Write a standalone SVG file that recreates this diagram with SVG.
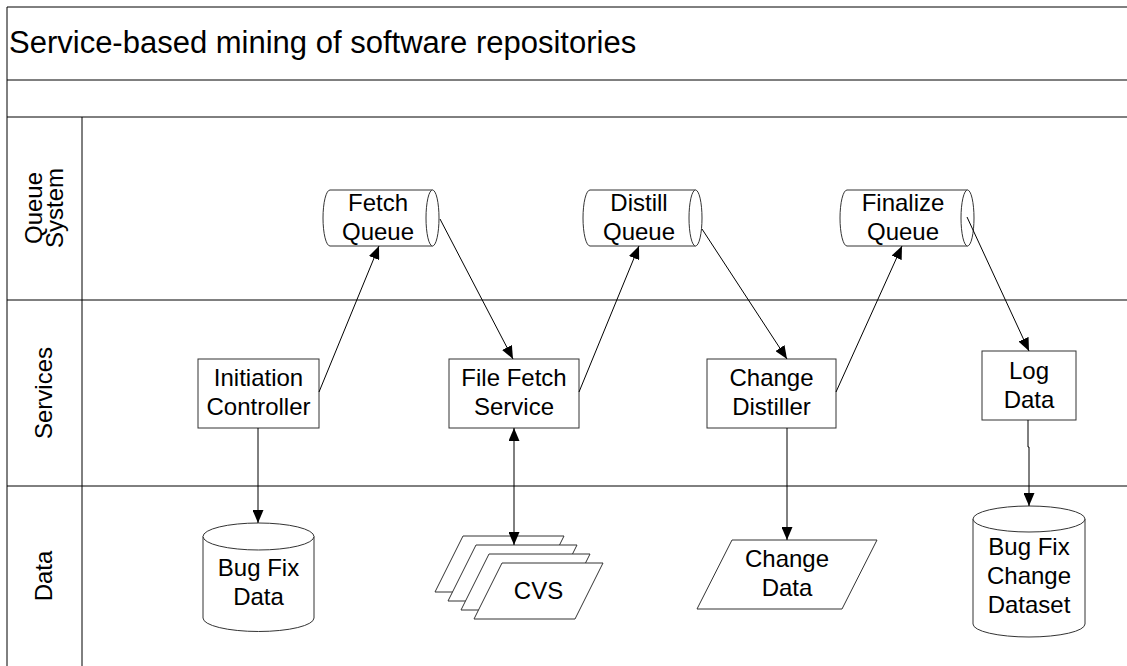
<svg xmlns="http://www.w3.org/2000/svg" width="1127" height="666" viewBox="0 0 1127 666">
<style>
text{font-family:"Liberation Sans",Arial,sans-serif;font-size:24px;fill:#000;text-anchor:middle}
.title{font-size:31px;text-anchor:start}
.frame{stroke:#000;stroke-width:1;fill:none}
.shape{fill:#fff;stroke:#333;stroke-width:1}
.conn{stroke:#000;stroke-width:1;fill:none}
</style>
<defs>
<marker id="ah" viewBox="0 0 13 11" refX="13" refY="5.5" markerWidth="13" markerHeight="11" markerUnits="userSpaceOnUse" orient="auto-start-reverse">
<path d="M0,0 L13,5.5 L0,11 z" fill="#000"/>
</marker>
</defs>
<rect width="1127" height="666" fill="#fff"/>
<g id="frame">
<line class="frame" x1="7" y1="7" x2="1127" y2="7"/>
<line class="frame" x1="7" y1="80" x2="1127" y2="80"/>
<line class="frame" x1="7" y1="117" x2="1127" y2="117"/>
<line class="frame" x1="7" y1="300" x2="1127" y2="300"/>
<line class="frame" x1="7" y1="486" x2="1127" y2="486"/>
<line class="frame" x1="7" y1="7" x2="7" y2="666"/>
<line class="frame" x1="82" y1="117" x2="82" y2="666"/>
<text class="title" x="9" y="53">Service-based mining of software repositories</text>
</g>
<g id="lane-queue"><text transform="translate(44,208) rotate(-90)"><tspan x="0" y="-2">Queue</tspan><tspan x="0" y="19">System</tspan></text></g>
<g id="lane-services"><text transform="translate(52,393) rotate(-90)" x="0" y="0">Services</text></g>
<g id="lane-data"><text transform="translate(52,576) rotate(-90)" x="0" y="0">Data</text></g>

<g id="fetch-queue">
<path class="shape" d="M330,190 L432.5,190 A6.5,28 0 0 1 432.5,246 L330,246 A7,28 0 0 1 330,190 Z"/>
<path class="shape" fill="none" d="M432.5,190 A6.5,28 0 0 0 432.5,246"/>
<text x="378" y="211">Fetch</text><text x="378" y="240">Queue</text>
</g>
<g id="distill-queue">
<path class="shape" d="M590,190 L695.5,190 A6.5,28 0 0 1 695.5,246 L590,246 A7,28 0 0 1 590,190 Z"/>
<path class="shape" fill="none" d="M695.5,190 A6.5,28 0 0 0 695.5,246"/>
<text x="639" y="211">Distill</text><text x="639" y="240">Queue</text>
</g>
<g id="finalize-queue">
<path class="shape" d="M847,190 L967.5,190 A6.5,28 0 0 1 967.5,246 L847,246 A7,28 0 0 1 847,190 Z"/>
<path class="shape" fill="none" d="M967.5,190 A6.5,28 0 0 0 967.5,246"/>
<text x="903" y="211">Finalize</text><text x="903" y="240">Queue</text>
</g>

<g id="initiation-controller">
<rect class="shape" x="198" y="359" width="121" height="69"/>
<text x="258.5" y="386">Initiation</text><text x="258.5" y="415">Controller</text>
</g>
<g id="file-fetch-service">
<rect class="shape" x="449" y="359" width="130" height="69"/>
<text x="514" y="386">File Fetch</text><text x="514" y="415">Service</text>
</g>
<g id="change-distiller">
<rect class="shape" x="707" y="359" width="129" height="69"/>
<text x="771.5" y="386">Change</text><text x="771.5" y="415">Distiller</text>
</g>
<g id="log-data">
<rect class="shape" x="982" y="351" width="94" height="69"/>
<text x="1029" y="379">Log</text><text x="1029" y="408">Data</text>
</g>

<g id="bug-fix-data">
<path class="shape" d="M203,536.5 A55.5,13.5 0 0 1 314,536.5 L314,618 A55.5,13.5 0 0 1 203,618 Z"/>
<path class="shape" fill="none" d="M203,536.5 A55.5,13.5 0 0 0 314,536.5"/>
<text x="258.5" y="576">Bug Fix</text><text x="258.5" y="605">Data</text>
</g>
<g id="cvs">
<path class="shape" d="M463,536 L564,536 L536,592 L435,592 Z"/>
<path class="shape" d="M476,545 L577,545 L549,601 L448,601 Z"/>
<path class="shape" d="M489,554 L590,554 L562,610 L461,610 Z"/>
<path class="shape" d="M502,563 L603,563 L575,619 L474,619 Z"/>
<text x="538.5" y="599">CVS</text>
</g>
<g id="change-data">
<path class="shape" d="M732,540 L877,540 L842,609 L697,609 Z"/>
<text x="787" y="567">Change</text><text x="787" y="596">Data</text>
</g>
<g id="bug-fix-change-dataset">
<path class="shape" d="M973,519 A56,13 0 0 1 1085,519 L1085,624 A56,13 0 0 1 973,624 Z"/>
<path class="shape" fill="none" d="M973,519 A56,13 0 0 0 1085,519"/>
<text x="1029" y="555">Bug Fix</text><text x="1029" y="584">Change</text><text x="1029" y="613">Dataset</text>
</g>

<g id="connectors">
<line class="conn" x1="319" y1="392" x2="379" y2="246" marker-end="url(#ah)"/>
<line class="conn" x1="440" y1="219" x2="513" y2="359" marker-end="url(#ah)"/>
<line class="conn" x1="579" y1="392" x2="639" y2="246" marker-end="url(#ah)"/>
<line class="conn" x1="702" y1="229" x2="787" y2="359" marker-end="url(#ah)"/>
<line class="conn" x1="836" y1="392" x2="902" y2="246" marker-end="url(#ah)"/>
<line class="conn" x1="967" y1="217" x2="1029" y2="351" marker-end="url(#ah)"/>
<polyline class="conn" points="1028,420 1028,447 1029,447 1029,506" marker-end="url(#ah)"/>
<line class="conn" x1="258" y1="428" x2="258" y2="523" marker-end="url(#ah)"/>
<line class="conn" x1="787" y1="428" x2="787" y2="540" marker-end="url(#ah)"/>
<line class="conn" x1="514" y1="428" x2="514" y2="545" marker-start="url(#ah)" marker-end="url(#ah)"/>
</g>
</svg>
